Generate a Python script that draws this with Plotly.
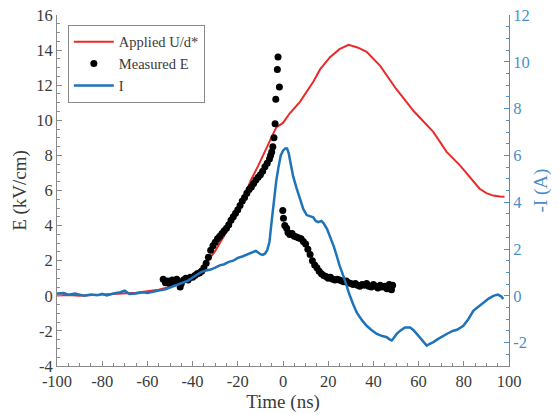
import plotly.graph_objects as go

# Applied U/d* (left axis, kV/cm)
red_t = [-100, -95, -90, -85, -80, -75, -70, -65, -60, -55, -52, -50, -45, -40, -35, -30, -25,
         -20, -17, -14, -11, -8, -5, -3, -2, 0, 3, 7.5, 13.4, 16.4, 20.8, 25, 29, 33, 37, 43,
         50, 58, 66.5, 72.4, 78.3, 83, 87, 90, 93, 96, 98]
red_v = [0.02, 0.05, 0.0, 0.04, 0.06, 0.08, 0.12, 0.18, 0.26, 0.35, 0.45, 0.55, 0.8, 1.15, 1.7,
         2.55, 3.65, 4.85, 5.75, 6.65, 7.4, 8.2, 9.0, 9.6, 9.68, 9.85, 10.4, 11.05, 12.2, 12.9,
         13.6, 14.05, 14.3, 14.15, 13.9, 13.1, 11.8, 10.5, 9.34, 8.2, 7.43, 6.7, 6.1, 5.85,
         5.71, 5.66, 5.65]

# Measured E (left axis, kV/cm)
e_t = [-53, -52, -51, -50, -49, -48, -47, -46, -45.5, -45, -44, -43, -42, -41, -40, -39, -38,
       -37, -36, -35, -34, -33, -32, -31, -30, -29, -28, -27, -26, -25, -24, -23, -22, -21,
       -20, -19, -18, -17, -16, -15, -14, -13, -12, -11, -10, -9, -8, -7, -6, -5.5, -5, -4.5,
       -4, -3.5, -3.2, -2.5, -2.2, -1.6,
       -0.1, 0.2, 0.8, 1.6, 2.2, 3, 4, 5, 6, 7, 8, 9, 10, 11, 12, 13, 14, 15, 16, 17, 18, 19,
       20, 21, 22, 23, 24, 25, 26, 27, 28, 29, 30, 31, 32, 33, 34, 35, 36, 37, 38, 39, 40, 41,
       42, 43, 44, 45, 46, 47, 48, 48.5]
e_v = [0.95, 0.75, 0.85, 0.7, 0.9, 0.8, 0.95, 0.75, 0.5, 0.7, 0.9, 1.0, 0.9, 1.05, 1.05, 1.15,
       1.25, 1.3, 1.4, 1.6, 1.85, 2.2, 2.6, 2.85, 3.05, 3.25, 3.4, 3.55, 3.7, 3.85, 4.05, 4.3,
       4.5, 4.7, 4.9, 5.15, 5.4, 5.6, 5.85, 6.05, 6.2, 6.4, 6.6, 6.75, 6.9, 7.1, 7.35, 7.55,
       7.8, 8.0, 8.2, 8.5, 9.0, 9.8, 11.2, 12.9, 13.6, 11.9,
       4.86, 4.42, 4.0, 3.85, 3.6, 3.5, 3.55, 3.4, 3.35, 3.3, 3.25, 3.1, 2.95, 2.65, 2.35, 2.0,
       1.75, 1.6, 1.4, 1.25, 1.15, 1.1, 1.0, 1.05, 0.95, 0.9, 0.95, 0.9, 0.85, 0.8, 0.85,
       0.75, 0.7, 0.65, 0.7, 0.6, 0.55, 0.65, 0.6, 0.7, 0.55, 0.5, 0.65, 0.55, 0.45, 0.6, 0.5,
       0.55, 0.4, 0.65, 0.35, 0.6]

# I (right axis, -I in A)
i_t = [-100, -97, -95, -92, -90, -88, -85, -82, -80, -78, -75, -72, -70, -68, -65, -62, -60,
       -57, -55, -52, -50, -47, -45, -42, -40, -38, -36, -34, -32, -30, -28, -26, -24, -22,
       -20, -18, -16, -14, -12, -11, -10, -9, -8, -7, -6, -5, -4, -3, -2, -1, 0, 1, 1.8, 2.5,
       3.5, 4.5, 6, 7.5, 9, 10.5, 12, 13.4, 14.5, 15.6, 17, 18, 19.5, 20.8, 22.5, 23.8, 25,
       26.7, 28, 29.6, 31, 32.6, 35, 37, 39, 41.5, 44, 45.9, 47, 48.1, 49, 50.3, 52, 54, 56.2,
       57.5, 59.2, 61, 63.6, 65, 66.5, 68.5, 70.9, 73, 75.4, 77, 79.8, 82, 84.2, 86, 88.6, 91,
       93.1, 95, 96.5, 97.5]
i_v = [0.1, 0.12, 0.05, 0.1, 0.05, 0.0, 0.05, 0.02, 0.08, 0.02, 0.1, 0.15, 0.22, 0.08, 0.1,
       0.15, 0.12, 0.2, 0.22, 0.28, 0.35, 0.45, 0.55, 0.65, 0.78, 0.9, 1.02, 1.08, 1.12, 1.2,
       1.3, 1.35, 1.45, 1.5, 1.62, 1.68, 1.75, 1.85, 1.92, 1.85, 1.78, 1.75, 1.8, 1.95, 2.3,
       3.2, 4.1, 4.9, 5.5, 6.0, 6.2, 6.3, 6.3, 6.1, 5.6, 5.1, 4.6, 4.1, 3.7, 3.45, 3.4, 3.35,
       3.2, 3.15, 3.2, 3.1, 2.85, 2.55, 2.1, 1.7, 1.3, 0.85, 0.45, 0.0, -0.35, -0.71, -1.05,
       -1.28, -1.45, -1.63, -1.72, -1.77, -1.85, -1.91, -1.8, -1.63, -1.48, -1.35, -1.35,
       -1.45, -1.63, -1.85, -2.13, -2.05, -1.98, -1.85, -1.7, -1.6, -1.49, -1.45, -1.28, -1.0,
       -0.64, -0.5, -0.28, -0.12, 0.0, 0.05, -0.02, -0.14]

x_ticks = [-100, -80, -60, -40, -20, 0, 20, 40, 60, 80, 100]
x_labels = ["-100", "-80", "-60", "-40", "-20", "0", "20", "40", "60", "80", "100"]
y_ticks = [-4, -2, 0, 2, 4, 6, 8, 10, 12, 14, 16]
y_labels = ["-4", "-2", "0", "2", "4", "6", "8", "10", "12", "14", "16"]
y2_ticks = [-2, 0, 2, 4, 6, 8, 10, 12]
y2_labels = ["-2", "0", "2", "4", "6", "8", "10", "12"]

FONT = "Liberation Serif, DejaVu Serif, serif"
GREY = "#8a8a8a"
AXBLUE = "#4a8fc7"
TXT = "#3a3a3a"

fig = go.Figure()
fig.add_trace(go.Scatter(x=red_t, y=red_v, mode="lines", name="Applied U/d*",
                         line=dict(color="#ea2a2a", width=2)))
fig.add_trace(go.Scatter(x=e_t, y=e_v, mode="markers", name="Measured E",
                         marker=dict(color="black", size=7)))
fig.add_trace(go.Scatter(x=i_t, y=i_v, mode="lines", name="I", yaxis="y2",
                         line=dict(color="#1f73b9", width=2.5)))

fig.update_layout(
    width=559, height=414,
    template="none",
    paper_bgcolor="white", plot_bgcolor="white",
    margin=dict(l=57, r=50, t=15, b=48),
    font=dict(family=FONT, size=16.5, color=TXT),
    showlegend=True,
    legend=dict(x=0.024, y=0.972, xanchor="left", yanchor="top",
                bordercolor=GREY, borderwidth=1, bgcolor="white",
                font=dict(family=FONT, size=14.5, color=TXT),
                tracegroupgap=0, itemwidth=40),
    xaxis=dict(range=[-100, 100], tickvals=x_ticks, ticktext=x_labels, showgrid=False,
               zeroline=False, showline=True, linecolor=GREY, linewidth=1, ticks="inside",
               ticklen=5, tickcolor=GREY, mirror=False, automargin=False,
               minor=dict(ticks="inside", ticklen=3, dtick=5, tickcolor=GREY, showgrid=False),
               title=dict(text="Time (ns)", font=dict(size=19), standoff=2)),
    yaxis=dict(range=[-4, 16], tickvals=y_ticks, ticktext=y_labels, showgrid=False,
               zeroline=False, showline=True, linecolor=GREY, linewidth=1, ticks="inside",
               ticklen=5, tickcolor=GREY, automargin=False,
               minor=dict(ticks="inside", ticklen=3, dtick=0.5, tickcolor=GREY, showgrid=False),
               title=dict(text="E (kV/cm)", font=dict(size=19), standoff=4)),
    yaxis2=dict(range=[-3, 12], tickvals=y2_ticks, ticktext=y2_labels, overlaying="y",
                side="right", showgrid=False, zeroline=False, showline=True,
                linecolor=AXBLUE, linewidth=1, ticks="inside", ticklen=5, tickcolor=AXBLUE,
                automargin=False, tickfont=dict(color=AXBLUE),
                minor=dict(ticks="inside", ticklen=3, dtick=0.5, tickcolor=AXBLUE, showgrid=False),
                title=dict(text="-I (A)", font=dict(size=19, color=AXBLUE), standoff=4)),
)

fig.write_html("out.html", config={"displayModeBar": False},
               post_script="document.body.style.margin='0px';")
